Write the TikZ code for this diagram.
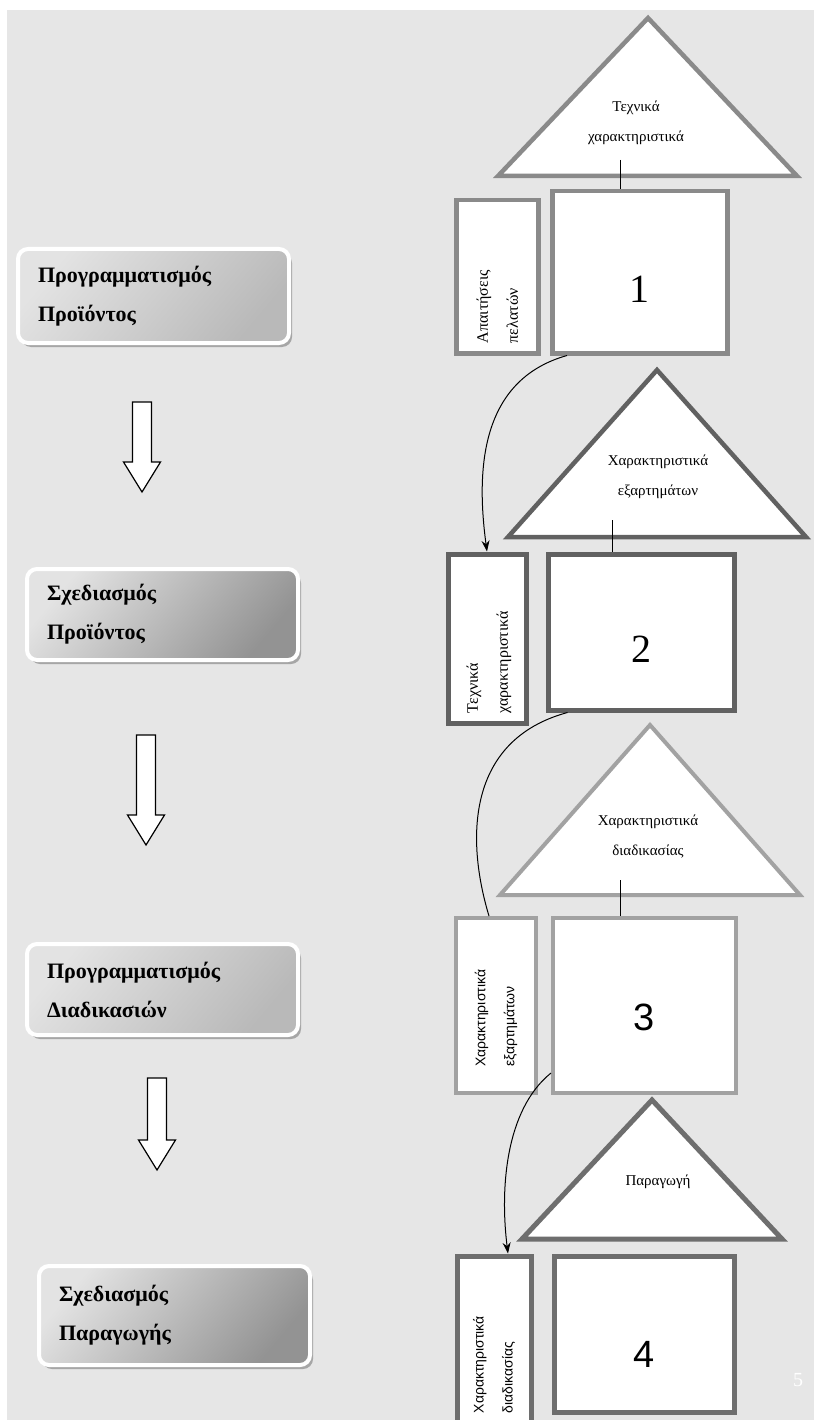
\documentclass[tikz,border=0pt]{standalone}
\usepackage{fontspec}
\setmainfont{Liberation Serif}
\newfontfamily\grsans{Liberation Sans}
\usetikzlibrary{arrows.meta,shadows,calc}

\definecolor{pagegray}{HTML}{E6E6E6}
\definecolor{lineone}{HTML}{8A8A8A}
\definecolor{linetwo}{HTML}{616161}
\definecolor{linethree}{HTML}{A2A2A2}
\definecolor{linefour}{HTML}{6E6E6E}

\tikzset{
  stage/.style={anchor=north west, draw=white, line width=4pt, rounded corners=10pt,
    align=left, inner xsep=20pt, text width=231pt,
    font=\bfseries\fontsize{22}{39}\selectfont,
    drop shadow={shadow xshift=3pt, shadow yshift=-4pt, fill=gray!70, opacity=1}},
  lightstage/.style={stage, top color=gray!22, bottom color=gray!55, shading angle=50},
  darkstage/.style={stage, top color=gray!22, bottom color=gray!85, shading angle=50},
  flowarrow/.style={draw=black, line width=1.2pt, fill=white},
  tri/.style={line width=4.5pt, fill=white},
  sidebox/.style={anchor=north west, fill=white, line width=4.5pt},
  numbox/.style={anchor=north west, fill=white, line width=4.5pt},
  sidetext/.style={rotate=90, anchor=west, align=left, inner sep=0pt,
    font=\fontsize{16}{30}\selectfont},
  sidesans/.style={sidetext, font=\grsans\fontsize{14}{29}\selectfont},
  tritext/.style={align=center, font=\fontsize{15}{30}\selectfont},
  numtext/.style={font=\fontsize{40}{40}\selectfont},
  numsans/.style={font=\grsans\fontsize{38}{38}\selectfont},
  link/.style={line width=1pt},
}

\begin{document}
\begin{tikzpicture}[x=1pt, y=-1pt, >={Stealth[length=11pt,width=8pt]}]
    \useasboundingbox (0,0) rectangle (814,1420);
    % Draw page background
    \fill[pagegray] (7,10) rectangle (814,1420);

    % Draw the stages on the left
    \node[lightstage, minimum height=94pt] (prodplan) at (16,247) {Προγραμματισμός\\Προϊόντος};
    \node[darkstage, minimum height=91pt] (proddesign) at (25,567) {Σχεδιασμός\\Προϊόντος};
    \node[lightstage, minimum height=91pt] (procplan) at (25,942) {Προγραμματισμός\\Διαδικασιών};
    \node[darkstage, minimum height=99pt] (makedesign) at (37,1264) {Σχεδιασμός\\Παραγωγής};

    % Draw the block arrows between stages
    \foreach \ax/\ya/\yb in {142/402/492, 146/735/845, 157/1078/1170}
        \draw[flowarrow] (\ax-9.5,\ya) -- (\ax+9.5,\ya) -- (\ax+9.5,\yb-30) -- (\ax+18.5,\yb-30)
            -- (\ax,\yb) -- (\ax-18.5,\yb-30) -- (\ax-9.5,\yb-30) -- cycle;

    % House 1
    \draw[tri, draw=lineone] (498,176) -- (648,18) -- (797,176) -- cycle;
    \node[tritext] (techroof) at (636,123) {Τεχνικά\\χαρακτηριστικά};
    \coordinate (techfoot) at (620,160);
    \node[sidebox, draw=lineone, minimum width=82pt, minimum height=153pt] (needs) at (454,198) {};
    \node[numbox, draw=lineone, minimum width=175pt, minimum height=162pt,
        label={[numtext, yshift=-17pt]center:1}] (one) at (550,189) {};
    \node[sidetext] (needstext) at ($(needs.south)+(0,-12)$) {Απαιτήσεις\\πελατών};
    \draw[link] (techfoot) -- (techfoot |- one.north);

    % House 2
    \draw[tri, draw=linetwo] (508,537) -- (657,370) -- (806,537) -- cycle;
    \node[tritext] (partroof) at (658,477) {Χαρακτηριστικά\\εξαρτημάτων};
    \coordinate (partfoot) at (612,520);
    \node[sidebox, draw=linetwo, line width=5pt, minimum width=78pt, minimum height=169pt] (techside) at (445.5,551.5) {};
    \node[numbox, draw=linetwo, line width=5pt, minimum width=186pt, minimum height=156pt,
        label={[numtext, yshift=-17pt]center:2}] (two) at (545.5,551.5) {};
    \node[sidetext] (techsidetext) at ($(techside.south)+(2,-12)$) {Τεχνικά\\χαρακτηριστικά};
    \draw[link] (partfoot) -- (partfoot |- two.north);

    % House 3
    \draw[tri, draw=linethree, line width=4pt] (500,895) -- (650,725) -- (800,895) -- cycle;
    \node[tritext] (procroof) at (648,837) {Χαρακτηριστικά\\διαδικασίας};
    \coordinate (procfoot) at (620,880);
    \node[sidebox, draw=linethree, line width=4pt, minimum width=80pt, minimum height=175pt] (partside) at (454,916) {};
    \node[numbox, draw=linethree, line width=4pt, minimum width=183pt, minimum height=175pt,
        label={[numsans, yshift=-12pt]center:3}] (three) at (551,916) {};
    \node[sidesans] (partsidetext) at ($(partside.south)+(0,-28)$) {Χαρακτηριστικά\\εξαρτημάτων};
    \draw[link] (procfoot) -- (procfoot |- three.north);

    % House 4
    \draw[tri, draw=linefour, line width=5pt] (522,1239) -- (652,1100) -- (782,1239) -- cycle;
    \node[tritext] (makeroof) at (658,1182) {Παραγωγή};
    \node[sidebox, draw=linefour, line width=5pt, minimum width=74pt, minimum height=180pt] (procside) at (454.5,1253.5) {};
    \node[numbox, draw=linefour, line width=5pt, minimum width=180pt, minimum height=156pt,
        label={[numsans, yshift=-20pt]center:4}] (four) at (551.5,1253.5) {};
    \node[sidesans] (procsidetext) at ($(procside.south)+(0,-25)$) {Χαρακτηριστικά\\διαδικασίας};

    % Draw the links between the houses
    \draw[link, ->] ($(one.south west)+(17,0)$) .. controls (480,380) and (476,470) .. (techside.north);
    \draw[link] ($(two.south west)+(22,0)$) .. controls (466,740) and (466,840) .. ($(partside.north)+(-7,0)$);
    \draw[link, ->] ($(three.south west)+(0,-22)$) .. controls (505,1110) and (500,1190) .. ($(procside.north)+(14,0)$);

    % Page number
    \node[text=white, font=\fontsize{20}{20}\selectfont] (pagenum) at (798,1380) {5};
\end{tikzpicture}
\end{document}
